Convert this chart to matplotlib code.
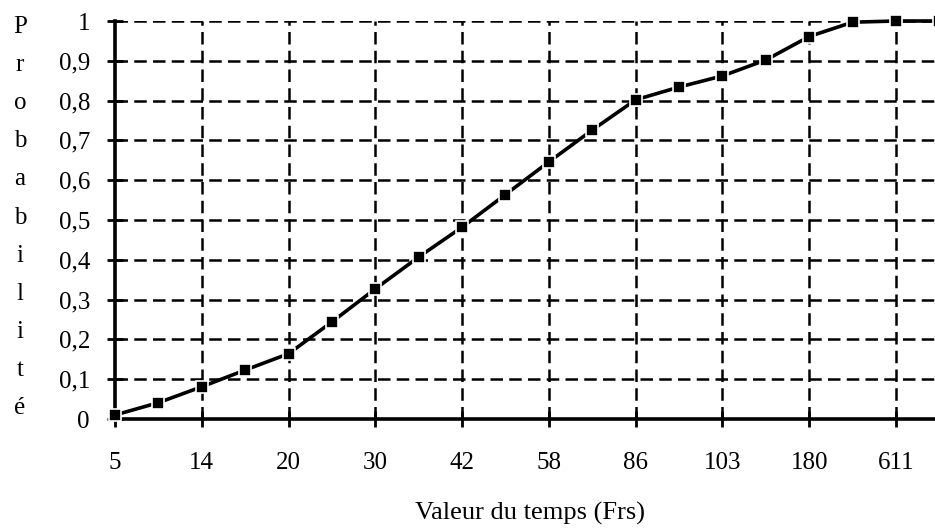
import matplotlib
matplotlib.use("Agg")
import matplotlib.pyplot as plt
import numpy as np

# ---- data ----
tick_labels = ["5", "14", "20", "30", "42", "58", "86", "103", "180", "611"]
probabilities = [0.01, 0.041, 0.081, 0.123, 0.164, 0.244, 0.327, 0.407, 0.482,
                 0.564, 0.646, 0.726, 0.802, 0.834, 0.862, 0.902, 0.961, 0.997,
                 1.0, 1.0]
y_ticks = [0, 0.1, 0.2, 0.3, 0.4, 0.5, 0.6, 0.7, 0.8, 0.9, 1.0]
y_tick_labels = ["0", "0,1", "0,2", "0,3", "0,4", "0,5", "0,6", "0,7", "0,8", "0,9", "1"]
ylabel_text = "Probabilité"
xlabel_text = "Valeur du temps (Frs)"

plt.rcParams['font.family'] = ['Liberation Serif', 'DejaVu Serif']

W, H = 935, 529
fig = plt.figure(figsize=(W / 100, H / 100), dpi=100)
ax_left, ax_bottom, ax_top = 115 / W, (H - 419) / H, (H - 21) / H
ax = fig.add_axes([ax_left, ax_bottom, 1.0 - ax_left, ax_top - ax_bottom])

x = np.arange(len(probabilities))
label_pos = np.arange(0, 2 * len(tick_labels), 2)

ax.set_xlim(0, 18.9)
ax.set_ylim(0, 1)

# grid
dash = (0, (5, 2.5))
for yv in y_ticks[1:]:
    ax.axhline(yv, color="black", lw=1.8, ls=dash, zorder=1)
for xv in label_pos[1:]:
    ax.axvline(xv, color="black", lw=1.8, ls=dash, zorder=1)

ax.plot(x, probabilities, color="black", lw=2.6, marker="s", markersize=8,
        markerfacecolor="black", markeredgecolor="white", markeredgewidth=1.2,
        clip_on=False, zorder=4)

for s in ["top", "right"]:
    ax.spines[s].set_visible(False)
for s in ["left", "bottom"]:
    ax.spines[s].set_linewidth(2.6)
    ax.spines[s].set_zorder(3)

FS = 18
ax.set_xticks(label_pos)
ax.set_xticklabels(tick_labels, fontsize=FS)
ax.set_yticks(y_ticks)
ax.set_yticklabels(y_tick_labels, fontsize=FS)
ax.tick_params(axis="both", direction="inout", length=12, width=2.0)
ax.tick_params(axis="x", pad=18)
ax.tick_params(axis="y", pad=12)

# stacked vertical y label
n = len(ylabel_text)
for i, ch in enumerate(ylabel_text):
    ypix = 27 + i * (408 - 27) / (n - 1)
    fig.text(20 / W, 1 - ypix / H, ch, ha="center", va="center", fontsize=FS)

fig.text(530 / W, 1 - 513 / H, xlabel_text, ha="center", va="center", fontsize=19)

fig.savefig("out.png", dpi=100)
